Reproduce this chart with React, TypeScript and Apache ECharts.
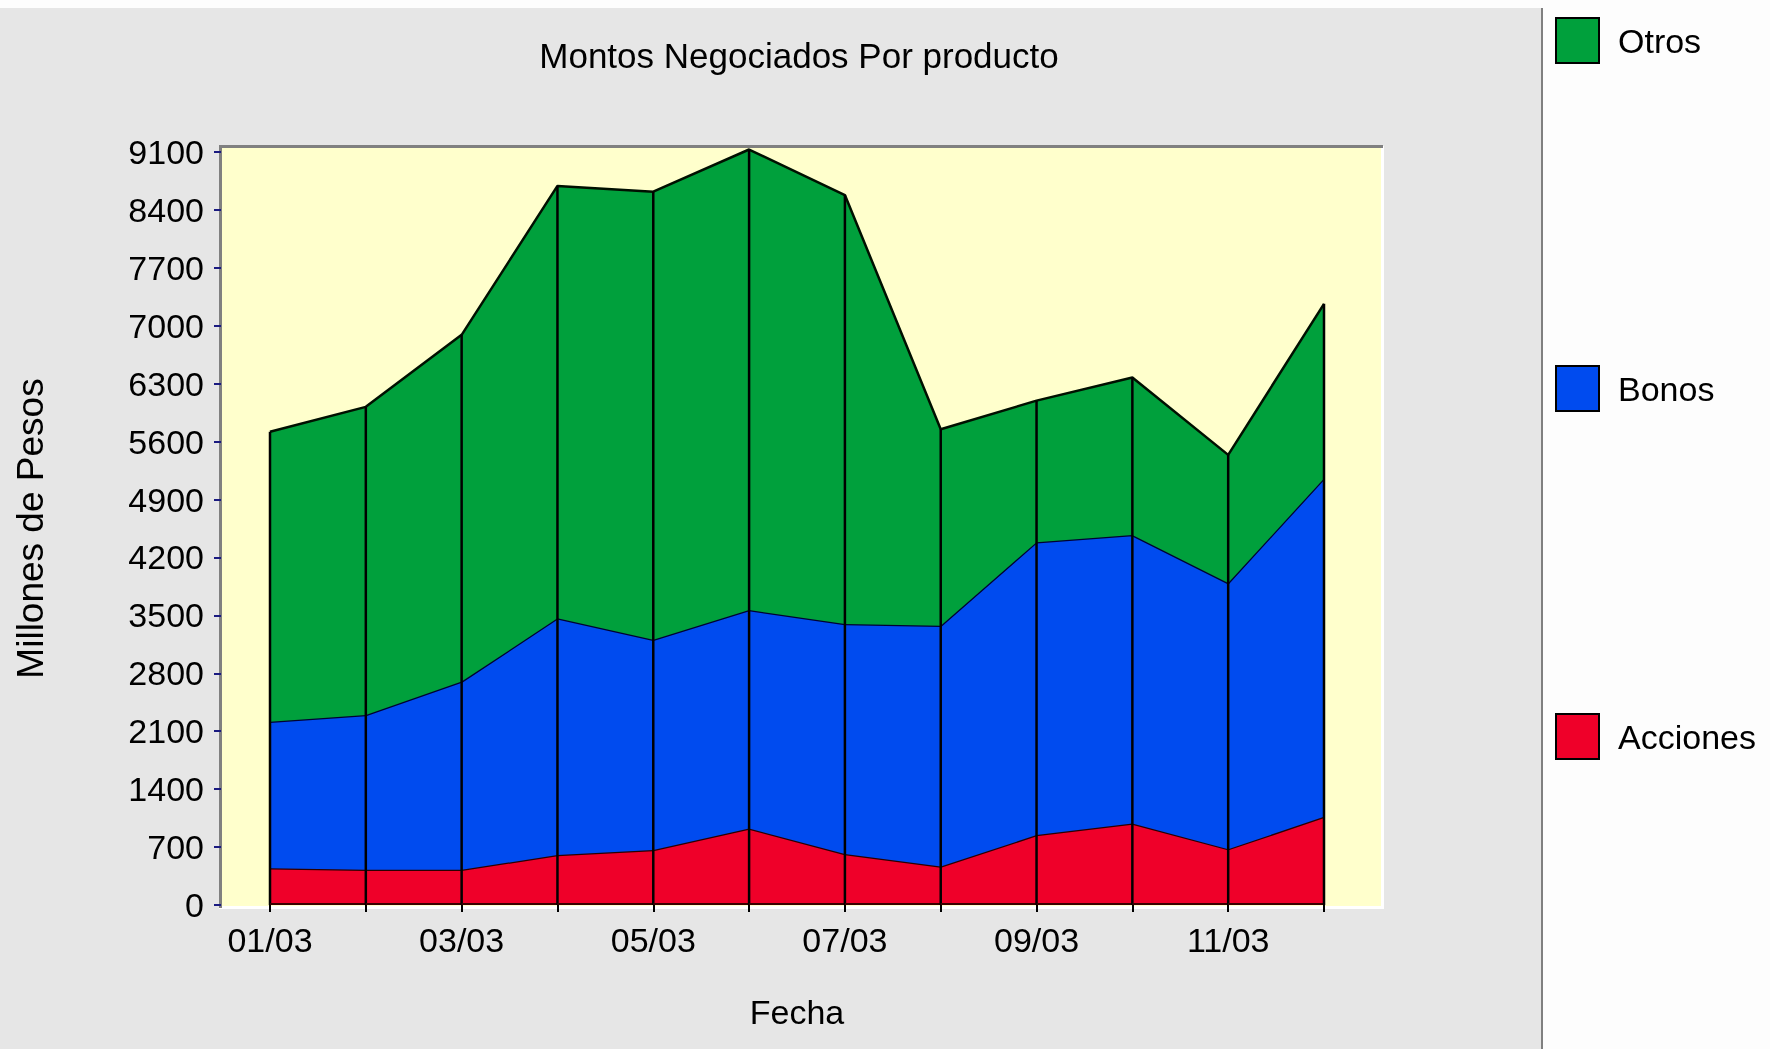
import React, { useEffect, useRef } from "react";
import * as echarts from "echarts";

const categories = ["01/03", "02/03", "03/03", "04/03", "05/03", "06/03", "07/03", "08/03", "09/03", "10/03", "11/03", "12/03"];
const acciones = [445, 425, 425, 605, 665, 925, 615, 465, 845, 985, 675, 1065];
const bonos = [1770, 1870, 2275, 2860, 2540, 2640, 2780, 2910, 3540, 3485, 3215, 4090];
const otros = [3505, 3725, 4190, 5225, 5415, 5565, 5185, 2375, 1710, 1905, 1550, 2110];
const seriesNames = ["Acciones", "Bonos", "Otros"];
const legendOrder = ["Otros", "Bonos", "Acciones"];
const yMin = 0;
const yMax = 9100;
const yInterval = 700;

const FONT = "Liberation Sans";

export default function App() {
  const ref = useRef<HTMLDivElement>(null);
  useEffect(() => {
    if (!ref.current) return;
    const chart = echarts.init(ref.current, undefined, { renderer: "svg" });
    const totals = categories.map((_, i) => acciones[i] + bonos[i] + otros[i]);
    const n = categories.length;
    const colors = ["#EF0029", "#004BEF", "#00A03C"];
    const edge = ["#2a0000", "#000033", "#001000"];
    const values = [acciones, bonos, otros];

    const option: any = {
      animation: false,
      textStyle: { fontFamily: FONT },
      title: {
        text: "Montos Negociados Por producto",
        left: 794,
        textAlign: "center",
        top: 33,
        textStyle: { fontFamily: FONT, fontSize: 35, fontWeight: "normal", color: "#000" },
      },
      legend: {
        data: legendOrder,
        orient: "vertical",
        left: 1550,
        top: 12,
        itemWidth: 43,
        itemHeight: 45,
        itemGap: 301,
        icon: "rect",
        itemStyle: { borderColor: "#000", borderWidth: 2 },
        textStyle: { fontFamily: FONT, fontSize: 34, color: "#000", padding: [0, 0, 0, 14] },
        selectedMode: false,
      },
      grid: { left: 270, right: 1770 - 1324, top: 152, bottom: 1049 - 905, containLabel: false },
      xAxis: {
        type: "category",
        data: categories,
        boundaryGap: false,
        offset: 6,
        name: "Fecha",
        nameLocation: "middle",
        nameGap: 84,
        nameTextStyle: { fontFamily: FONT, fontSize: 34, color: "#000" },
        axisLine: { show: false },
        axisTick: { show: true, interval: 0, length: 7, lineStyle: { color: "#000", width: 2 } },
        axisLabel: { interval: 1, margin: 12, fontFamily: FONT, fontSize: 34, color: "#000" },
        splitLine: { show: false },
      },
      yAxis: {
        type: "value",
        min: yMin,
        max: yMax,
        interval: yInterval,
        offset: 49,
        name: "Millones de Pesos",
        nameLocation: "middle",
        nameGap: 172,
        nameTextStyle: { fontFamily: FONT, fontSize: 37, color: "#000" },
        axisLine: { show: false },
        axisTick: { show: true, length: 7, lineStyle: { color: "#1A1A80", width: 2 } },
        axisLabel: { margin: 17, fontFamily: FONT, fontSize: 34, color: "#000", formatter: (v: number) => String(v) },
        splitLine: { show: false },
      },
      graphic: [
        { type: "rect", z: -10, shape: { x: 0, y: 0, width: 1770, height: 1049 }, style: { fill: "#FDFDFD" } },
        { type: "rect", z: -10, shape: { x: 0, y: 8, width: 1541, height: 1041 }, style: { fill: "#E6E6E6" } },
        { type: "rect", z: -10, shape: { x: 1541, y: 8, width: 2, height: 1041 }, style: { fill: "#808080" } },
        { type: "rect", z: -10, shape: { x: 219, y: 146, width: 1165, height: 763 }, style: { fill: "#FFFFFF" } },
        { type: "rect", z: -10, shape: { x: 219, y: 146, width: 1162, height: 760 }, style: { fill: "#FFFFCC" } },
        { type: "rect", z: -10, shape: { x: 219, y: 145, width: 1164, height: 3 }, style: { fill: "#808080" } },
        { type: "rect", z: -10, shape: { x: 219, y: 145, width: 3, height: 763 }, style: { fill: "#808080" } },
      ],
      series: [
        ...seriesNames.map((name, k) => ({
          name,
          type: "line",
          stack: "total",
          data: values[k],
          symbol: "none",
          clip: false,
          z: 2 + k * 0.1,
          color: colors[k],
          itemStyle: { color: colors[k], borderColor: "#000", borderWidth: 2 },
          lineStyle: { color: edge[k], width: 2.5 },
          areaStyle: { color: colors[k], opacity: 1 },
        })),
        {
          name: "drop",
          type: "custom",
          z: 5,
          clip: false,
          silent: true,
          data: categories.map((_, i) => [i, totals[i]]),
          renderItem: (params: any, api: any) => {
            const i = api.value(0);
            const top = api.coord([i, api.value(1)]);
            const bot = api.coord([i, 0]);
            const children: any[] = [
              { type: "line", shape: { x1: top[0], y1: top[1], x2: bot[0], y2: bot[1] }, style: { stroke: "#000", lineWidth: 2.5 } },
            ];
            if (i < n - 1) {
              const next = api.coord([i + 1, 0]);
              children.push({ type: "line", shape: { x1: bot[0], y1: bot[1] - 1, x2: next[0], y2: next[1] - 1 }, style: { stroke: "#3a0000", lineWidth: 2 } });
            }
            return { type: "group", children };
          },
        },
      ],
    };
    chart.setOption(option);
    return () => chart.dispose();
  }, []);
  return <div ref={ref} style={{ position: "fixed", left: 0, top: 0, width: 1770, height: 1049 }} />;
}
